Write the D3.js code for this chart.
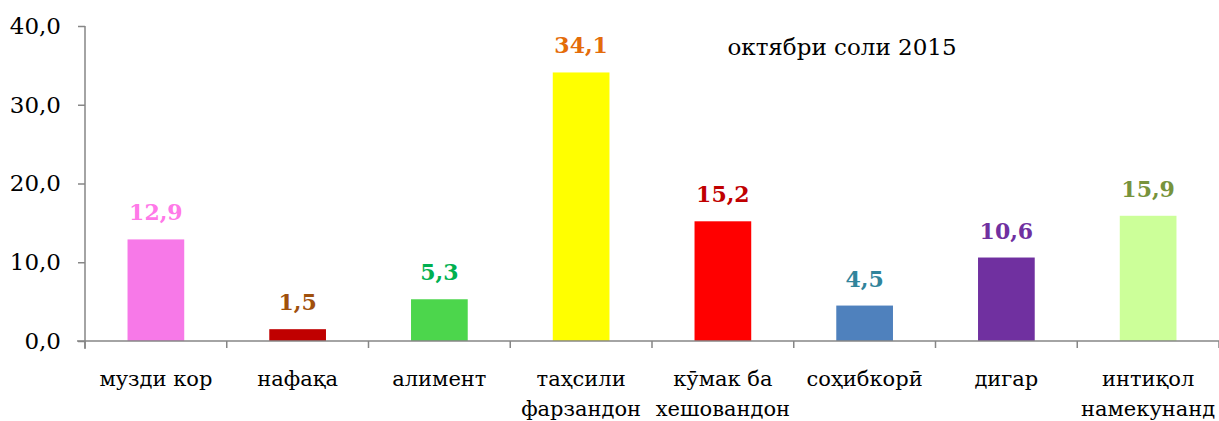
<!DOCTYPE html>
<html>
<head>
<meta charset="utf-8">
<script src="https://cdn.jsdelivr.net/npm/d3@7"></script>
<style>
  body { margin: 0; background: #fff; }
  svg { display: block; font-family: "DejaVu Serif", serif; }
</style>
</head>
<body>
<svg id="chart" width="1219" height="421"></svg>
<script>
	var categories = [
		["музди кор"], ["нафақа"], ["алимент"], ["таҳсили", "фарзандон"],
		["кӯмак ба", "хешовандон"], ["соҳибкорӣ"], ["дигар"], ["интиқол", "намекунанд"]
	];
	var values = [12.9, 1.5, 5.3, 34.1, 15.2, 4.5, 10.6, 15.9];
	var barColors = ["#f779e8", "#c00000", "#4cd64c", "#ffff00", "#ff0000", "#4f81bd", "#7030a0", "#ccff99"];
	var labelColors = ["#ff79e8", "#a0500c", "#00b050", "#e46c0a", "#c00000", "#31849b", "#7030a0", "#77933c"];
	var yTicks = [0, 10, 20, 30, 40];
	var note = "октябри соли 2015";

	var plotL = 85, plotR = 1219, plotT = 26, plotB = 341;
	var svg = d3.select("#chart");

	var x = d3.scaleBand()
		.domain(d3.range(values.length))
		.range([plotL, plotR])
		.paddingInner(0.6)
		.paddingOuter(0.3);
	var y = d3.scaleLinear().domain([0, 40]).range([plotB, plotT]);

	var fmt = function (v) { return d3.format(".1f")(v).replace(".", ","); };

	// bars
	svg.selectAll(".bar")
		.data(values)
		.enter().append("rect")
		.attr("class", "bar")
		.attr("x", function (d, i) { return x(i); })
		.attr("y", function (d) { return y(d); })
		.attr("width", x.bandwidth())
		.attr("height", function (d) { return plotB - y(d); })
		.style("fill", function (d, i) { return barColors[i]; });

	// value labels
	svg.selectAll(".val")
		.data(values)
		.enter().append("text")
		.attr("class", "val")
		.attr("x", function (d, i) { return x(i) + x.bandwidth() / 2; })
		.attr("y", function (d) { return y(d) - 19; })
		.attr("text-anchor", "middle")
		.style("font-size", "22px")
		.style("font-weight", "bold")
		.style("fill", function (d, i) { return labelColors[i]; })
		.text(fmt);

	// y axis
	var yAxis = svg.append("g")
		.attr("transform", "translate(" + plotL + ",0)")
		.call(d3.axisLeft(y).tickValues(yTicks).tickSize(7).tickPadding(17).tickFormat(fmt));
	yAxis.select(".domain").attr("d", "M0," + plotT + "V" + (plotB + 8));
	yAxis.selectAll("line, path").attr("stroke", "#868686").attr("stroke-width", 1.5);
	yAxis.selectAll("text").style("font-size", "23px").style("fill", "#000")
		.style("font-family", "DejaVu Serif, serif");

	// x axis line and band boundary ticks
	var bounds = d3.range(values.length).map(function (i) { return x(i) - x.step() * x.paddingInner() / 2; });
	bounds.push(plotR);
	svg.append("line")
		.attr("x1", plotL - 8).attr("x2", plotR)
		.attr("y1", plotB).attr("y2", plotB)
		.attr("stroke", "#868686").attr("stroke-width", 1.5);
	svg.selectAll(".xtick")
		.data(bounds)
		.enter().append("line")
		.attr("x1", function (d) { return d; }).attr("x2", function (d) { return d; })
		.attr("y1", plotB).attr("y2", plotB + 7)
		.attr("stroke", "#868686").attr("stroke-width", 1.5);

	// category labels
	var cat = svg.selectAll(".cat")
		.data(categories)
		.enter().append("text")
		.attr("class", "cat")
		.attr("text-anchor", "middle")
		.style("font-size", "21px")
		.style("fill", "#000");
	cat.selectAll("tspan")
		.data(function (d, i) { return d.map(function (s) { return {s: s, i: i}; }); })
		.enter().append("tspan")
		.attr("x", function (d) { return x(d.i) + x.bandwidth() / 2; })
		.attr("y", function (d, j) { return 386 + j * 30; })
		.text(function (d) { return d.s; });

	svg.append("text")
		.attr("x", 842).attr("y", 55)
		.attr("text-anchor", "middle")
		.style("font-size", "23px")
		.text(note);
</script>
</body>
</html>
